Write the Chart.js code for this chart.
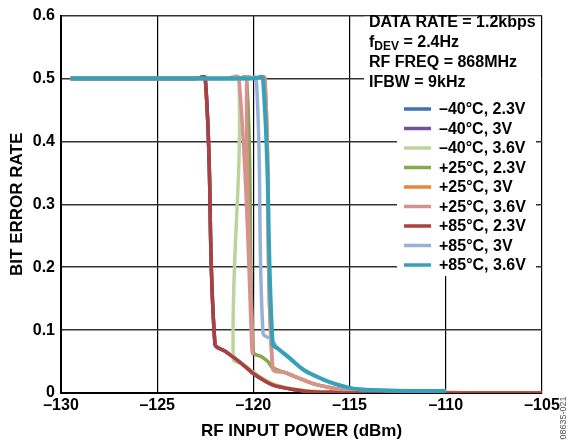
<!DOCTYPE html>
<html>
<head>
<meta charset="utf-8">
<script src="https://cdn.jsdelivr.net/npm/chart.js@4.4.1/dist/chart.umd.min.js"></script>
<style>
  html, body { margin: 0; padding: 0; background: #fff; }
  #c { display: block; }
</style>
</head>
<body>
<canvas id="c" width="573" height="444"></canvas>
<script>
// ---------- data ----------
const seriesLabels = ['\u201340\u00b0C, 2.3V', '\u201340\u00b0C, 3V', '\u201340\u00b0C, 3.6V',
                      '+25\u00b0C, 2.3V', '+25\u00b0C, 3V', '+25\u00b0C, 3.6V',
                      '+85\u00b0C, 2.3V', '+85\u00b0C, 3V', '+85\u00b0C, 3.6V'];
const seriesColors = ['#3f72b0', '#71509c', '#bcd49c', '#86a849', '#e8873a', '#d5928e', '#ad3f3c', '#95b1d8', '#36a2ba'];

const xM40_23 = [-129.5, -123, -122.5, -122.0, -121.5, -121.0, -120.5, -120.0, -119.5, -119.0, -118.5, -118.0, -117.0, -116.0, -115.0, -105.0];
const yM40_23 = [0.5, 0.5, 0.5, 0.078, 0.067, 0.056, 0.044, 0.031, 0.021, 0.013, 0.009, 0.006, 0.002, 0.001, 0, 0];
const xM40_30 = [-129.5, -123, -122.5, -122.0, -121.5, -121.0, -120.5, -120.0, -119.5, -119.0, -118.5, -118.0, -117.0, -116.0, -115.0, -105.0];
const yM40_30 = [0.5, 0.5, 0.5, 0.078, 0.067, 0.056, 0.044, 0.031, 0.021, 0.013, 0.009, 0.006, 0.002, 0.001, 0, 0];
const xM40_36 = [-129.5, -121.5, -120.75, -121.05, -120.5, -120.0, -119.5, -119.0, -118.5, -118.0, -117.0, -116.0, -115.0, -105.0];
const yM40_36 = [0.5, 0.5, 0.5, 0.055, 0.045, 0.033, 0.023, 0.015, 0.010, 0.007, 0.003, 0.001, 0, 0];
const xP25_23 = [-129.5, -120.85, -120.35, -120.0, -119.6, -119.25, -119.0, -118.3, -118.0, -116.9, -115.9, -114.8, -113.0, -105.0];
const yP25_23 = [0.5, 0.5, 0.5, 0.065, 0.058, 0.050, 0.040, 0.032, 0.028, 0.015, 0.008, 0.003, 0.001, 0];
const xP25_30 = [-129.5, -119.85, -119.4, -119.0, -118.3, -118.0, -116.9, -115.9, -114.8, -113.0, -105.0];
const yP25_30 = [0.5, 0.5, 0.5, 0.040, 0.032, 0.028, 0.015, 0.008, 0.003, 0.001, 0];
const xP25_36 = [-129.5, -121.3, -120.75, -120.05, -120.35, -119.85, -119.4, -119.0, -118.3, -118.0, -116.9, -115.9, -114.8, -113.0, -105.0];
const yP25_36 = [0.5, 0.5, 0.5, 0.062, 0.5, 0.5, 0.5, 0.040, 0.032, 0.028, 0.015, 0.008, 0.003, 0.001, 0];
const xP85_23 = [-129.5, -123, -122.5, -122.0, -121.5, -121.0, -120.5, -120.0, -119.5, -119.0, -118.5, -118.0, -117.0, -116.0, -115.0, -105.0];
const yP85_23 = [0.5, 0.5, 0.5, 0.078, 0.067, 0.056, 0.044, 0.031, 0.021, 0.013, 0.009, 0.006, 0.002, 0.001, 0, 0];
const xP85_30 = [-129.5, -120.3, -119.85, -119.5, -119.1, -118.9, -118.7, -118.1, -117.4, -116.7, -116.0, -115.1, -114.5, -113.0, -110.0];
const yP85_30 = [0.5, 0.5, 0.5, 0.095, 0.086, 0.078, 0.070, 0.055, 0.037, 0.026, 0.017, 0.009, 0.006, 0.004, 0.003];
const xP85_36 = [-129.5, -120.0, -119.5, -119.0, -118.7, -118.1, -117.4, -116.7, -116.0, -115.1, -114.5, -113.0, -110.0];
const yP85_36 = [0.5, 0.5, 0.5, 0.078, 0.070, 0.055, 0.037, 0.026, 0.017, 0.009, 0.006, 0.004, 0.003];

const xTickLabels = ['\u2013130', '\u2013125', '\u2013120', '\u2013115', '\u2013110', '\u2013105'];
const yTickLabels = ['0', '0.1', '0.2', '0.3', '0.4', '0.5', '0.6'];
const infoLines = ['DATA RATE = 1.2kbps', ['f', 'DEV', ' = 2.4Hz'], 'RF FREQ = 868MHz', 'IFBW = 9kHz'];
const xTitle = 'RF INPUT POWER (dBm)';
const yTitle = 'BIT ERROR RATE';
const figCode = '08635-021';

// ---------- build ----------
const xs = [xM40_23, xM40_30, xM40_36, xP25_23, xP25_30, xP25_36, xP85_23, xP85_30, xP85_36];
const ys = [yM40_23, yM40_30, yM40_36, yP25_23, yP25_30, yP25_36, yP85_23, yP85_30, yP85_36];
const datasets = seriesLabels.map((lab, i) => ({
  label: lab,
  data: xs[i].map((x, k) => ({ x: x, y: ys[i][k] })),
  borderColor: seriesColors[i],
  backgroundColor: seriesColors[i],
  borderWidth: i === 8 ? 4 : 3.5,
  pointRadius: 0,
  tension: 0.4,
  fill: false,
  order: seriesLabels.length - 1 - i
}));

const FONT = '"Liberation Sans", Arial, sans-serif';

const overlay = {
  id: 'overlay',
  beforeDatasetsDraw(chart) {
    const ctx = chart.ctx;
    const a = chart.chartArea;
    ctx.save();
    ctx.fillStyle = '#fff';
    ctx.fillRect(364, a.top + 1, a.right - 1 - 364, 96 - a.top - 1);
    ctx.fillRect(397, 96, 536 - 397, 276 - 96);
    ctx.restore();
  },
  afterDraw(chart) {
    const ctx = chart.ctx;
    ctx.save();
    ctx.fillStyle = '#000';
    ctx.textBaseline = 'middle';
    ctx.textAlign = 'left';
    const x0 = 369;
    infoLines.forEach((ln, i) => {
      const y = 23 + i * 20;
      if (Array.isArray(ln)) {
        ctx.font = 'bold 16px ' + FONT;
        ctx.fillText(ln[0], x0, y);
        let x = x0 + ctx.measureText(ln[0]).width;
        ctx.font = 'bold 12px ' + FONT;
        ctx.fillText(ln[1], x, y + 4);
        x += ctx.measureText(ln[1]).width;
        ctx.font = 'bold 16px ' + FONT;
        ctx.fillText(ln[2], x, y);
      } else {
        ctx.font = 'bold 16px ' + FONT;
        ctx.fillText(ln, x0, y);
      }
    });
    chart.data.datasets.forEach((ds, i) => {
      const y = 109 + i * 19.5;
      ctx.strokeStyle = ds.borderColor;
      ctx.lineWidth = 3.5;
      ctx.beginPath();
      ctx.moveTo(404, y);
      ctx.lineTo(431, y);
      ctx.stroke();
      ctx.fillStyle = '#000';
      ctx.font = 'bold 16px ' + FONT;
      ctx.fillText(ds.label, 439, y + 1);
    });
    ctx.translate(564, 418);
    ctx.rotate(-Math.PI / 2);
    ctx.textAlign = 'center';
    ctx.fillStyle = '#555';
    ctx.font = '9px ' + FONT;
    ctx.fillText(figCode, 0, 0);
    ctx.restore();
  }
};

new Chart(document.getElementById('c'), {
  type: 'line',
  data: { datasets: datasets },
  plugins: [overlay],
  options: {
    responsive: false,
    animation: false,
    devicePixelRatio: 1,
    layout: { padding: { top: 9, right: 31, left: 0, bottom: 2 } },
    plugins: { legend: { display: false }, tooltip: { enabled: false } },
    scales: {
      x: {
        type: 'linear',
        min: -130, max: -105,
        afterFit: (s) => { s.height = 49; },
        ticks: {
          stepSize: 5,
          padding: 3,
          color: '#000',
          font: { family: FONT, size: 16, weight: 'bold' },
          maxRotation: 0,
          callback: (v) => xTickLabels[Math.round((v + 130) / 5)]
        },
        grid: { color: '#000', lineWidth: 1.2, drawTicks: false },
        border: { color: '#000', width: 2 },
        title: {
          display: true, text: xTitle, color: '#000',
          font: { family: FONT, size: 17, weight: 'bold' },
          padding: { top: 0, bottom: 0 }
        }
      },
      y: {
        type: 'linear',
        min: 0, max: 0.6,
        afterFit: (s) => { s.width = 61; },
        ticks: {
          stepSize: 0.1,
          padding: 6,
          color: '#000',
          font: { family: FONT, size: 16, weight: 'bold' },
          callback: (v) => yTickLabels[Math.round(v * 10)]
        },
        grid: { color: '#333', lineWidth: 1.5, drawTicks: false },
        border: { color: '#000', width: 2 },
        title: {
          display: true, text: yTitle, color: '#000',
          font: { family: FONT, size: 17, weight: 'bold' },
          padding: { top: 7, bottom: 0 }
        }
      }
    }
  }
});
</script>
</body>
</html>
